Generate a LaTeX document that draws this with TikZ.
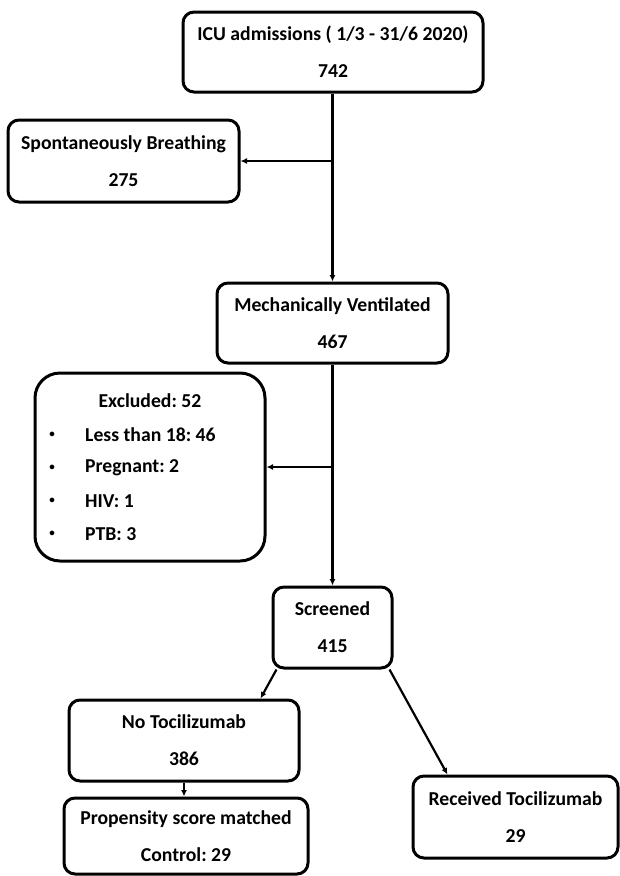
\documentclass[tikz,border=0pt]{standalone}
\usepackage{fontspec}
\setmainfont{Carlito}
\frenchspacing
\usetikzlibrary{arrows.meta}

\tikzset{
  box/.style={draw, line width=3pt, rounded corners=11pt, align=center, inner sep=0pt},
  arr/.style={-{Latex[length=6.5pt,width=6pt]}, line width=2.2pt},
  lbl/.style={inner sep=0pt},
}

\begin{document}
\begin{tikzpicture}[x=1pt,y=-1pt,font=\bfseries\fontsize{19.7}{23.5}\selectfont]
\useasboundingbox (0,0) rectangle (619,876);
\node[box, minimum width=300, minimum height=80] (icu) at (333,52) {ICU admissions ( 1/3 - 31/6 2020)\\[13.5pt]742};
\node[box, minimum width=231, minimum height=82] (spont) at (123.5,161) {Spontaneously Breathing\\[13.5pt]275};
\node[box, minimum width=231, minimum height=80] (mech) at (332.5,323) {Mechanically Ventilated\\[13.5pt]467};
\node[box, minimum width=230, minimum height=188, rounded corners=25pt] (excl) at (150,467) {};
\node[lbl] (exhead) at (150,401) {Excluded: 52};
\foreach \t [count=\i] in {Less than 18: 46, Pregnant: 2, HIV: 1, PTB: 3}{
  \node[lbl] (bul\i) at (52,402+33*\i) {\fontsize{11}{11}\selectfont\textbullet};
  \node[lbl, anchor=west] (item\i) at (85,402+33*\i) {\t};
}
\node[box, minimum width=119, minimum height=81] (scr) at (332.5,627.5) {Screened\\[13.5pt]415};
\node[box, minimum width=230, minimum height=81] (noto) at (184,740.5) {No Tocilizumab\\[13.5pt]386};
\node[box, minimum width=244, minimum height=76] (prop) at (186,836) {Propensity score matched\\[13.5pt]Control: 29};
\node[box, minimum width=205, minimum height=82] (recv) at (515.5,817) {Received Tocilizumab\\[13.5pt]29};

\coordinate (j1) at (mech.north |- spont.east);
\coordinate (j2) at (mech.south |- excl.east);
\draw[arr] (icu.south -| mech.north) -- (mech.north);
\draw[arr] (j1) -- (spont.east);
\draw[arr] (mech.south) -- (scr.north);
\draw[arr] (j2) -- (excl.east);
\draw[arr] ([xshift=5pt]scr.south west) -- ([xshift=-40pt]noto.north east);
\draw[arr] ([xshift=-4pt]scr.south east) -- ([xshift=36pt]recv.north west);
\draw[arr] (noto.south) -- (noto.south |- prop.north);
\end{tikzpicture}
\end{document}
